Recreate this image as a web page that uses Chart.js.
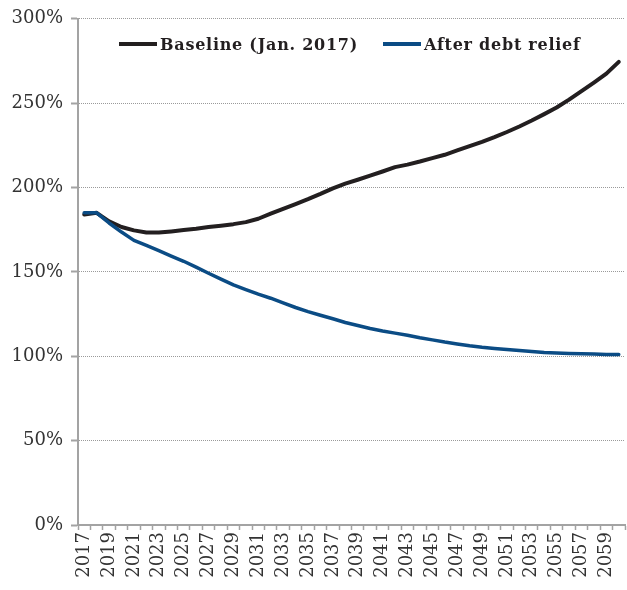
<!DOCTYPE html>
<html>
<head>
<meta charset="utf-8">
<script src="https://cdn.jsdelivr.net/npm/chart.js@4"></script>
<style>
  html, body { margin: 0; padding: 0; background: #fff; }
  #wrap { position: relative; width: 627px; height: 590px; }
  #legend { position: absolute; top: 34px; left: 0; width: 627px; height: 20px;
    font: bold 16px "DejaVu Serif", serif; letter-spacing: 0.75px; color: #231f20; }
  #legend .item { position: absolute; top: 0; display: flex; align-items: center; height: 20px; white-space: nowrap; }
  #legend .sw { width: 38px; height: 4px; margin-right: 3px; }
</style>
</head>
<body>
<div id="wrap">
  <canvas id="c" width="627" height="590"></canvas>
  <div id="legend"></div>
</div>
<script>
// public debt, % of GDP
const years = [];
for (let y = 2017; y <= 2060; y++) years.push(String(y));

const baseline = [184, 185, 180, 176.6, 174.6, 173.4, 173.3, 174, 174.8, 175.6,
  176.6, 177.4, 178.3, 179.5, 181.5, 184.5, 187.4, 190.2, 193.1, 196.2,
  199.5, 202.3, 204.6, 207, 209.5, 212.1, 213.6, 215.4, 217.4, 219.4,
  222, 224.6, 227.1, 229.9, 232.9, 236.2, 239.7, 243.5, 247.4, 252.1,
  257.1, 262.2, 267.5, 274.5];

const afterRelief = [185, 185, 179, 173.6, 168.7, 165.7, 162.6, 159.4, 156.3, 152.8,
  149.2, 145.7, 142.3, 139.5, 136.8, 134.4, 131.7, 128.9, 126.5, 124.3,
  122.2, 120, 118.2, 116.5, 115, 113.7, 112.5, 111, 109.7, 108.4,
  107.3, 106.2, 105.3, 104.6, 104, 103.4, 102.8, 102.3, 102, 101.7,
  101.5, 101.3, 101.1, 101];

const yTicks = [0, 50, 100, 150, 200, 250, 300];

const SERIF = '"DejaVu Serif", serif';
const AXIS = "#a3a3a3";

const datasets = [
  { label: "Baseline (Jan. 2017)", data: baseline, borderColor: "#231f20", borderWidth: 4, order: 1, legendX: 119 },
  { label: "After debt relief", data: afterRelief, borderColor: "#0b4c85", borderWidth: 3.5, order: 0, legendX: 383 },
];

const chart = new Chart(document.getElementById("c"), {
  type: "line",
  data: {
    labels: years,
    datasets: datasets.map((d) => ({ ...d, pointRadius: 0, tension: 0, fill: false, borderCapStyle: "round", borderJoinStyle: "round" })),
  },
  options: {
    responsive: false,
    animation: false,
    layout: { padding: { top: 17, right: 2, left: 0, bottom: 0 } },
    plugins: { legend: { display: false }, tooltip: { enabled: false } },
    scales: {
      x: {
        offset: true,
        grid: { drawOnChartArea: false, drawTicks: true, tickLength: 5, offset: true, tickColor: AXIS, tickWidth: 1.5 },
        border: { color: AXIS, width: 2 },
        ticks: {
          autoSkip: false, maxRotation: 90, minRotation: 90, padding: 2,
          color: "#333", font: { family: SERIF, size: 18 },
          callback: (v, i) => (i % 2 === 0 ? years[i] : ""),
        },
        afterFit: (s) => { s.height = 65; s.paddingLeft = 0; s.paddingRight = 0; },
      },
      y: {
        min: 0, max: 300,
        afterBuildTicks: (s) => { s.ticks = yTicks.map((v) => ({ value: v })); },
        grid: { color: (c) => (c.tick && c.tick.value === 0 ? "rgba(0,0,0,0)" : "#9a9a9a"), lineWidth: 1, tickLength: 7, tickColor: AXIS, tickWidth: 2 },
        border: { color: AXIS, width: 2, dash: [1, 1] },
        ticks: { color: "#333", padding: 8, font: { family: SERIF, size: 18 }, callback: (v) => v + "%" },
        afterFit: (s) => { s.width = 78; },
      },
    },
  },
});

// legend sits inside the plot area
const lg = document.getElementById("legend");
datasets.forEach((d) => {
  const it = document.createElement("div");
  it.className = "item";
  it.style.left = d.legendX + "px";
  it.innerHTML = `<span class="sw" style="background:${d.borderColor}"></span><span>${d.label}</span>`;
  lg.appendChild(it);
});
</script>
</body>
</html>
